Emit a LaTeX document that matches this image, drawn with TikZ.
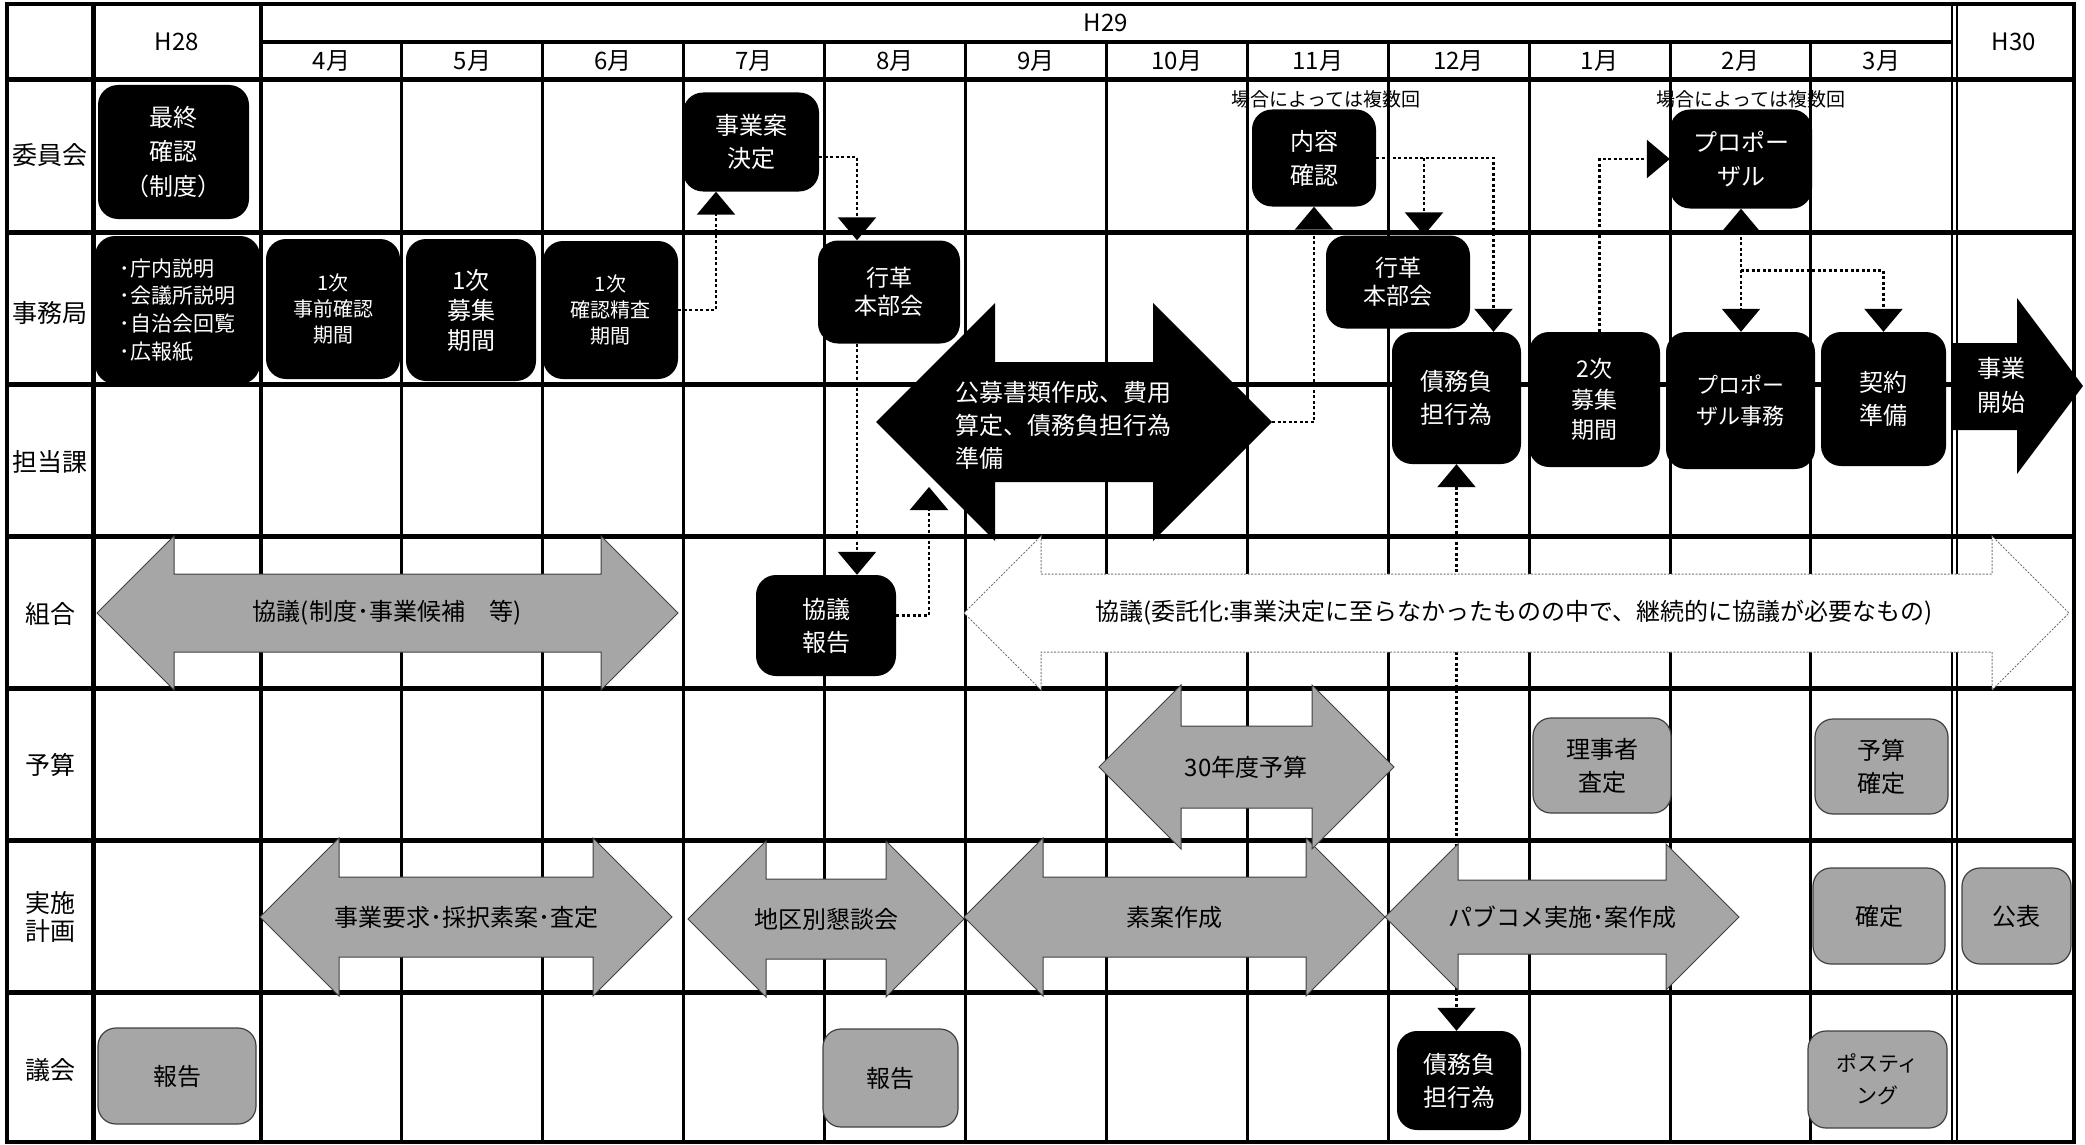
\documentclass[tikz,border=0pt]{standalone}
\usepackage{fontspec}
\setmainfont{Noto Sans CJK JP}
\usetikzlibrary{arrows.meta,calc}
\definecolor{boxgray}{HTML}{A6A6A6}
\tikzstyle{blackbox} = [fill=black, text=white, rounded corners=20pt, align=center, inner sep=0pt, font=\fontsize{24}{33}\selectfont]
\tikzstyle{graybox} = [fill=boxgray, draw=black!75, line width=1.2pt, rounded corners=18pt, align=center, inner sep=0pt, font=\fontsize{24}{33}\selectfont]
\tikzstyle{grayarrow} = [fill=boxgray, draw=black!75, line width=1pt]
\tikzstyle{whitearrow} = [fill=white, draw=black!55, line width=1pt, dash pattern=on 2pt off 1.5pt]
\tikzstyle{arrowtext} = [font=\fontsize{24}{30}\selectfont, inner sep=0pt]
\tikzstyle{hdr} = [font=\fontsize{24}{30}\selectfont, inner sep=0pt]
\tikzstyle{rowname} = [font=\fontsize{25}{28}\selectfont, align=center, inner sep=0pt]
\tikzstyle{note} = [font=\fontsize{19}{22}\selectfont, inner sep=0pt]
\tikzstyle{conn} = [line width=2.5pt, dash pattern=on 3pt off 2.5pt, -{Triangle[width=38pt,length=23pt]}]
\tikzstyle{conn2} = [conn, {Triangle[width=38pt,length=23pt]}-{Triangle[width=38pt,length=23pt]}]
\newcommand{\dblarrow}[6]{%
  \path[#1] (#2,#4) -- ({#2+#5},{#4-#5}) -- ({#2+#5},{#4-#6}) -- ({#3-#5},{#4-#6}) -- ({#3-#5},{#4-#5}) -- (#3,#4)
    -- ({#3-#5},{#4+#5}) -- ({#3-#5},{#4+#6}) -- ({#2+#5},{#4+#6}) -- ({#2+#5},{#4+#5}) -- cycle;}

\begin{document}
\begin{tikzpicture}[x=1pt, y=-1pt]
	\useasboundingbox (0,0) rectangle (2085,1145);
	\pgfdeclarelayer{background}
	\pgfsetlayers{background,main}
	
	% grid
	\foreach \i in {1,...,11}
		\draw[line width=3pt] ({261+140.9*\i},42) -- ({261+140.9*\i},1142);
	\draw[line width=3.5pt] (261,4) -- (261,1142);
	\draw[line width=2.5pt] (1952,4) -- (1952,1142);
	\draw[line width=2.5pt] (1957,4) -- (1957,1142);
	\draw[line width=5pt] (93,4) -- (93,1142);
	\draw[line width=4pt] (261,42) -- (1952,42);
	\foreach \y in {80,232,384,536,688,840,992}
		\draw[line width=5pt] (7,\y) -- (2074,\y);
	\draw[line width=4.5pt] (7,4) rectangle (2074,1142);
	
	% header
	\node[hdr] (h28) at (177,42) {H28};
	\node[hdr] (h29) at (1106,23) {H29};
	\node[hdr] (h30) at (2014,42) {H30};
	\foreach \m [count=\i] in {4,5,6,7,8,9,10,11,12,1,2,3}
		\node[hdr] (m\i) at ({261+140.9*\i-70.45},61) {\m 月};
	
	\node[rowname] (iinkai) at (50,155) {委員会};
	\node[rowname] (jimukyoku) at (50,313) {事務局};
	\node[rowname] (tantouka) at (50,462) {担当課};
	\node[rowname] (kumiai) at (50,614) {組合};
	\node[rowname] (yosan) at (50,765) {予算};
	\node[rowname] (jisshi) at (50,917) {実施\\計画};
	\node[rowname] (gikai) at (50,1070) {議会};
	
	% arrows
	\dblarrow{grayarrow}{97}{678}{613}{77}{39}
	\node[arrowtext] (kyogi1) at (387,613) {協議(制度･事業候補　等)};
	\dblarrow{whitearrow}{964}{2069}{613}{77}{39}
	\node[arrowtext] (kyogi2) at (1514,613) {協議(委託化:事業決定に至らなかったものの中で、継続的に協議が必要なもの)};
	\dblarrow{grayarrow}{260}{672}{917}{79}{40}
	\node[arrowtext] (yokyu) at (466,917) {事業要求･採択素案･査定};
	\dblarrow{grayarrow}{688}{964}{919}{78}{40}
	\node[arrowtext] (kondan) at (826,919) {地区別懇談会};
	\dblarrow{grayarrow}{964}{1385}{917}{79}{40}
	\node[arrowtext] (soan) at (1174,917) {素案作成};
	\dblarrow{grayarrow}{1385}{1739}{917}{73}{37}
	\node[arrowtext] (pabukome) at (1562,917) {パブコメ実施･案作成};
	\dblarrow{grayarrow}{1099}{1394}{767}{82}{41}
	\node[arrowtext] (yosan30) at (1246,767) {30年度予算};
	\dblarrow{fill=black}{876}{1272}{422}{119}{60}
	\node[arrowtext, text=white, align=left, anchor=west, font=\fontsize{24}{33}\selectfont] (koubo) at (955,425) {公募書類作成、費用\\算定、債務負担行為\\準備};
	\coordinate (koubo-tip) at (1272,422);
	\coordinate (koubo-low) at (929,487);
	\fill (1953,343) -- (2017,343) -- (2017,298) -- (2083,386) -- (2017,474) -- (2017,430) -- (1953,430) -- cycle;
	\node[arrowtext, text=white, align=center, font=\fontsize{24}{34}\selectfont] (kaishi) at (2001,385) {事業\\開始};
	
	% boxes
	\node[blackbox, minimum width=151pt, minimum height=134pt, font=\fontsize{24}{34.5}\selectfont] (saishu) at (173.5,152) {最終\\確認\\（制度）};
	\node[blackbox, minimum width=136pt, minimum height=99pt] (jigyoan) at (751,142) {事業案\\決定};
	\node[blackbox, minimum width=124pt, minimum height=97pt, font=\fontsize{24}{34}\selectfont] (naiyo) at (1314,158) {内容\\確認};
	\node[blackbox, minimum width=142pt, minimum height=99pt, font=\fontsize{24}{34}\selectfont] (propo) at (1741,159) {プロポー\\ザル};
	\node[note] (fukusu1) at (1326,99) {場合によっては複数回};
	\node[note] (fukusu2) at (1751,99) {場合によっては複数回};
	
	\node[blackbox, minimum width=165pt, minimum height=148pt, align=left, font=\fontsize{21}{27.7}\selectfont] (shonai) at (177.5,310) {･庁内説明\\･会議所説明\\･自治会回覧\\･広報紙};
	\node[blackbox, minimum width=134pt, minimum height=140pt, font=\fontsize{20}{26}\selectfont] (jizen) at (333,309) {1次\\事前確認\\期間};
	\node[blackbox, minimum width=130pt, minimum height=142pt, font=\fontsize{24}{30}\selectfont] (boshu1) at (471,310) {1次\\募集\\期間};
	\node[blackbox, minimum width=135pt, minimum height=138pt, font=\fontsize{20}{26}\selectfont] (seisa) at (610.5,310) {1次\\確認精査\\期間};
	\node[blackbox, minimum width=142pt, minimum height=103pt, font=\fontsize{23}{28}\selectfont] (gyokaku1) at (889,292) {行革\\本部会};
	\node[blackbox, minimum width=144pt, minimum height=93pt, font=\fontsize{23}{28}\selectfont] (gyokaku2) at (1398,282) {行革\\本部会};
	\node[blackbox, minimum width=129pt, minimum height=132pt] (saimu1) at (1456.5,398) {債務負\\担行為};
	\node[blackbox, minimum width=131pt, minimum height=135pt, font=\fontsize{23}{30.5}\selectfont] (boshu2) at (1594.5,399.5) {2次\\募集\\期間};
	\node[blackbox, minimum width=149pt, minimum height=137pt, font=\fontsize{22}{31}\selectfont] (propojimu) at (1740.5,400.5) {プロポー\\ザル事務};
	\node[blackbox, minimum width=125pt, minimum height=134pt] (keiyaku) at (1883.5,399) {契約\\準備};
	\node[blackbox, minimum width=140pt, minimum height=101pt] (kyogihokoku) at (826,625.5) {協議\\報告};
	
	\node[graybox, minimum width=138pt, minimum height=95pt] (satei) at (1602,765.5) {理事者\\査定};
	\node[graybox, minimum width=133pt, minimum height=95pt] (yosankakutei) at (1881.5,766.5) {予算\\確定};
	\node[graybox, minimum width=132pt, minimum height=96pt] (kakutei) at (1879,916) {確定};
	\node[graybox, minimum width=109pt, minimum height=96pt] (kohyo) at (2016.5,916) {公表};
	\node[graybox, minimum width=158pt, minimum height=96pt] (hokoku1) at (177,1076) {報告};
	\node[graybox, minimum width=135pt, minimum height=98pt] (hokoku2) at (890.5,1078) {報告};
	\node[blackbox, minimum width=124pt, minimum height=99pt] (saimu2) at (1459,1080.5) {債務負\\担行為};
	\node[graybox, minimum width=139pt, minimum height=97pt, font=\fontsize{21}{32}\selectfont] (posting) at (1877.5,1079.5) {ポスティ\\ング};
	
	% connectors
	\begin{pgfonlayer}{background}
		\draw[conn] (seisa.east) -| ([xshift=-35pt]jigyoan.south);
		\draw[conn] ([yshift=-15pt]jigyoan.east) -| ([xshift=-32pt]gyokaku1.north);
		\draw[conn] ([xshift=-32pt]gyokaku1.south) -- ([xshift=-32pt]gyokaku1.south |- kyogihokoku.north);
		\draw[conn] ([yshift=10pt]kyogihokoku.east) -| (koubo-low);
		\draw[conn] (koubo-tip) -| (naiyo.south);
		\draw[conn] (naiyo.east) -| ([xshift=37pt]saimu1.north);
		\draw[conn] ([xshift=26pt]gyokaku2.north |- naiyo.east) -- ([xshift=26pt]gyokaku2.north);
		\draw[conn] ([xshift=5pt]boshu2.north) |- (propo.west);
		\draw[conn2] (propo.south) -- (propo.south |- propojimu.north);
		\draw[conn] ($(propo.south)!0.5!(propojimu.north)$) -| (keiyaku.north);
		\draw[conn2] (saimu1.south) -- (saimu1.south |- saimu2.north);
	\end{pgfonlayer}
\end{tikzpicture}
\end{document}
